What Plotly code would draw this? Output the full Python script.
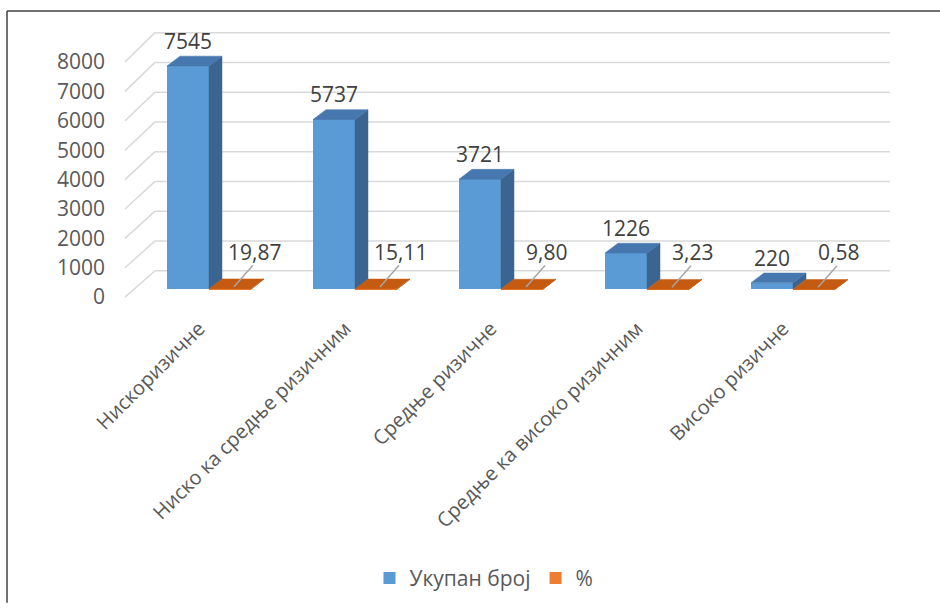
import plotly.graph_objects as go

# ---------------- data ----------------
categories = ["Нискоризичне", "Ниско ка средње ризичним", "Средње ризичне",
              "Средње ка високо ризичним", "Високо ризичне"]
totals = [7545, 5737, 3721, 1226, 220]
percents = [19.87, 15.11, 9.80, 3.23, 0.58]
y_ticks = [0, 1000, 2000, 3000, 4000, 5000, 6000, 7000, 8000]
series_names = ["Укупан број", "%"]

# ---------------- geometry (pixel based styling) ----------------
W, H = 940, 610
L, R = 106, 900            # plot area px (x)
T, B = 15, 310             # plot area px (y)
PW, PH = R - L, B - T
CX0, SX = 209, 146         # px of category 0 centre, px per category
Y0, SY = 295, 228 / 7545   # px of value 0 on bar plane, px per unit
BARW = 42                  # bar front width px
DX, DY = 13, 10            # bar depth offset px

def X(px):
    return (px - CX0) / SX

def Y(py):
    return (Y0 - py) / SY

def xpx(x):
    return CX0 + x * SX

def ypx(v):
    return Y0 - v * SY

def front_py(v):
    return 303 - v * 240 / 8000

def back_py(v):
    return 276 - v * 243 / 8000

BW = BARW / SX
DXu = DX / SX
DYu = DY / SY

BLUE, BLUE_TOP, BLUE_SIDE = "#5B9BD5", "#4677AE", "#3A6591"
ORANGE, ORANGE_TOP, ORANGE_SIDE = "#ED7D31", "#C55A11", "#A94C0E"
TXT = "#595959"
FONT = "Open Sans"

fig = go.Figure()

# front faces
xs = list(range(len(categories)))
fig.add_trace(go.Bar(x=xs, y=totals, name=series_names[0], offset=-BW, width=BW,
                     marker=dict(color=BLUE, line=dict(width=0)), hoverinfo="skip"))
fig.add_trace(go.Bar(x=xs, y=percents, name=series_names[1], offset=0, width=BW,
                     marker=dict(color=ORANGE, line=dict(width=0)), hoverinfo="skip"))

def add_poly(px_list, py_list, color):
    fig.add_trace(go.Scatter(x=px_list, y=py_list, mode="lines", fill="toself",
                             fillcolor=color, line=dict(width=0.5, color=color),
                             showlegend=False, hoverinfo="skip"))

for i, (t, p) in enumerate(zip(totals, percents)):
    x0, x1 = i - BW, i
    add_poly([x1, x1 + DXu, x1 + DXu, x1, x1], [0, DYu, t + DYu, t, 0], BLUE_SIDE)
    add_poly([x0, x1, x1 + DXu, x0 + DXu, x0], [t, t, t + DYu, t + DYu, t], BLUE_TOP)
    o0, o1 = i, i + BW
    add_poly([o1, o1 + DXu, o1 + DXu, o1, o1], [0, DYu, p + DYu, p, 0], ORANGE_SIDE)
    add_poly([o0, o1, o1 + DXu, o0 + DXu, o0], [p, p, p + DYu, p + DYu, p], ORANGE_TOP)

shapes = []
for v in y_ticks:
    shapes.append(dict(type="line", xref="x", yref="y", layer="below",
                       x0=X(155), x1=X(890), y0=Y(back_py(v)), y1=Y(back_py(v)),
                       line=dict(color="#D9D9D9", width=1.5)))
    shapes.append(dict(type="line", xref="x", yref="y", layer="below",
                       x0=X(125), x1=X(155), y0=Y(front_py(v)), y1=Y(back_py(v)),
                       line=dict(color="#D9D9D9", width=1.5)))

for i, p in enumerate(percents):
    c = xpx(i + BW / 2)
    py = ypx(p)
    shapes.append(dict(type="line", xref="x", yref="y", layer="above",
                       x0=X(c + 4), x1=X(c + 23), y0=Y(py - 2), y1=Y(py - 24),
                       line=dict(color="#A6A6A6", width=1.5)))

def xp(px):
    return (px - L) / PW

def yp(py):
    return (B - py) / PH

shapes.append(dict(type="line", xref="paper", yref="paper", x0=xp(7), x1=xp(945),
                   y0=yp(11), y1=yp(11), line=dict(color="#404040", width=1.5)))
shapes.append(dict(type="line", xref="paper", yref="paper", x0=xp(7), x1=xp(7),
                   y0=yp(11), y1=yp(615), line=dict(color="#404040", width=1.5)))

annotations = []
for i, (t, p) in enumerate(zip(totals, percents)):
    annotations.append(dict(x=i - BW / 2, y=t, xref="x", yref="y", text=str(t),
                            showarrow=False, yshift=25, xanchor="center", yanchor="middle",
                            font=dict(family=FONT, size=21, color="#404040")))
    annotations.append(dict(x=i + BW / 2, y=p, xref="x", yref="y",
                            text=f"{p:.2f}".replace(".", ","),
                            showarrow=False, xshift=24, yshift=37, xanchor="center",
                            yanchor="middle",
                            font=dict(family=FONT, size=21, color="#404040")))

fig.update_layout(
    width=W, height=H, autosize=False,
    margin=dict(l=L, r=W - R, t=T, b=H - B, pad=0),
    paper_bgcolor="white", plot_bgcolor="white",
    barmode="overlay", bargap=0,
    showlegend=True,
    legend=dict(orientation="h", x=xp(484), xanchor="center", y=yp(590), yanchor="middle",
                font=dict(family=FONT, size=21, color=TXT), itemclick=False,
                itemwidth=30, bgcolor="rgba(0,0,0,0)"),
    xaxis=dict(range=[X(L), X(R)], tickvals=xs, ticktext=categories, tickangle=-45,
               showgrid=False, zeroline=False, showline=False, ticks="",
               ticklabelshift=-10, ticklabelstandoff=8,
               tickfont=dict(family=FONT, size=20, color=TXT), fixedrange=True),
    yaxis=dict(range=[Y(B), Y(T)], tickvals=[Y(front_py(v)) for v in y_ticks],
               ticktext=[str(v) for v in y_ticks], showgrid=False, zeroline=False,
               showline=False, ticks="", tickfont=dict(family=FONT, size=21, color=TXT),
               fixedrange=True),
    shapes=shapes, annotations=annotations,
    hovermode=False,
)

fig.write_html("out.html")
